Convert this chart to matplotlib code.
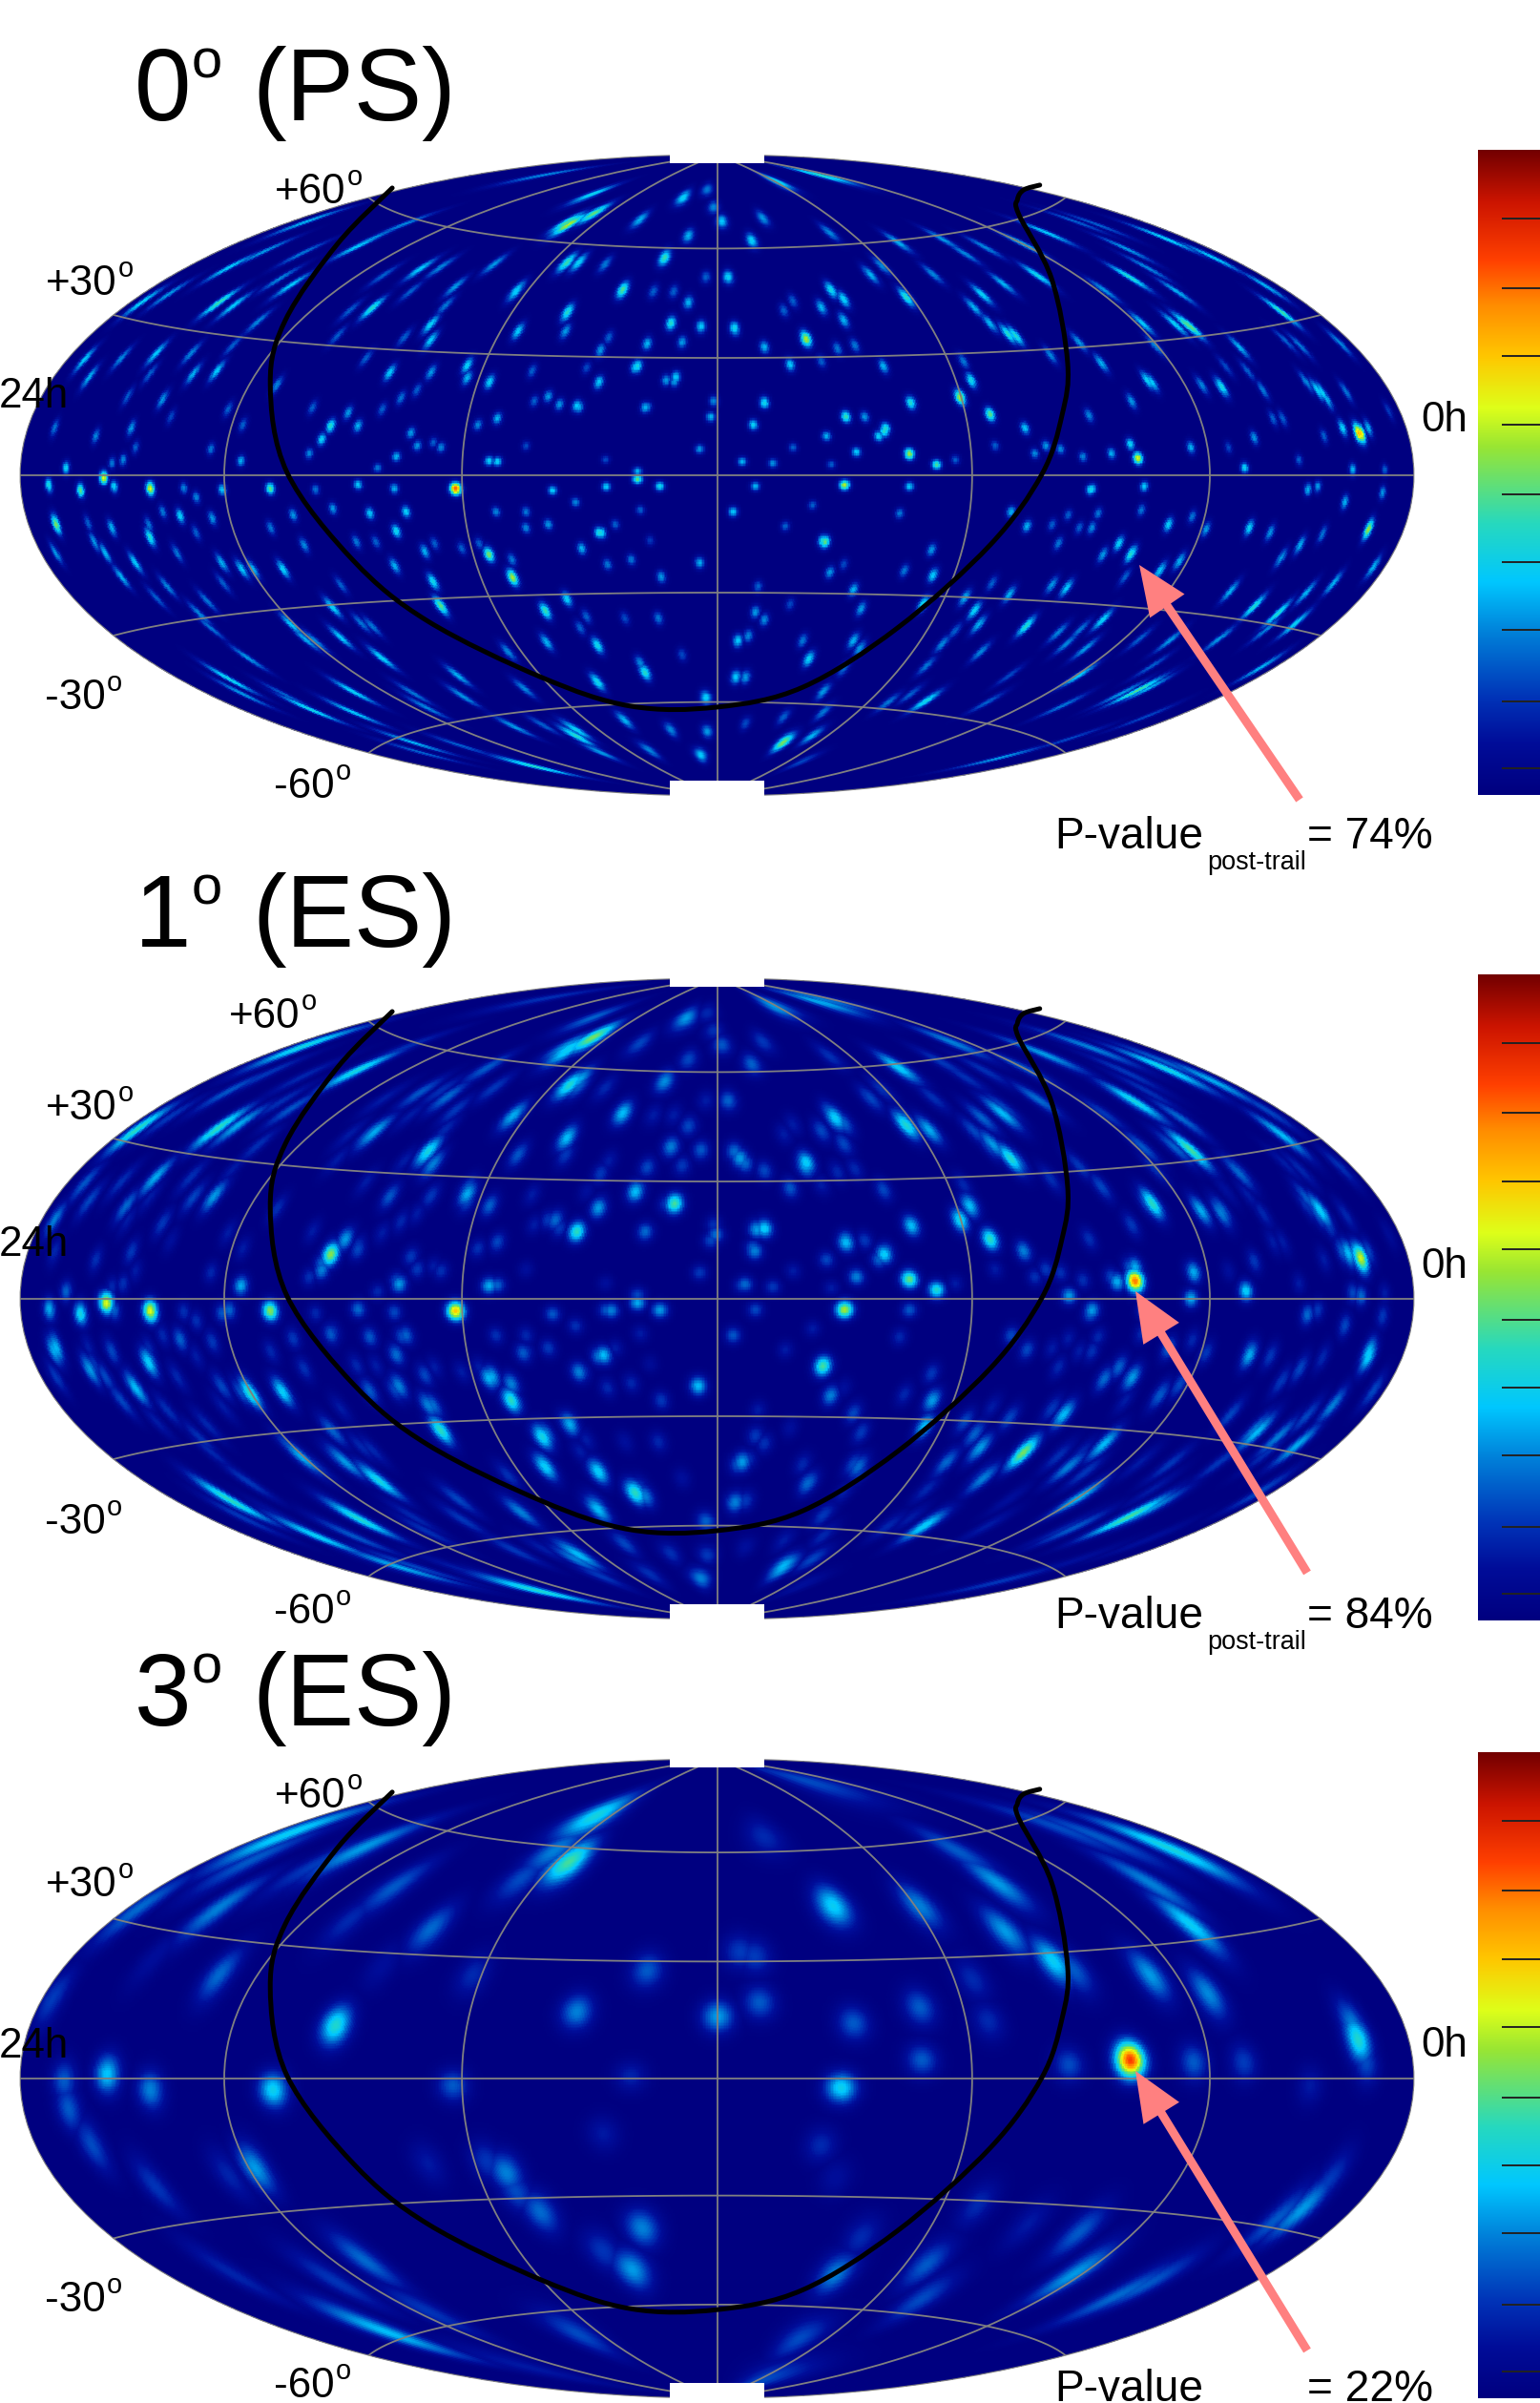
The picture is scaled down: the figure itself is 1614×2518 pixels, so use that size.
import numpy as np
import matplotlib
matplotlib.use("Agg")
import matplotlib.pyplot as plt
from matplotlib.colors import LinearSegmentedColormap
from matplotlib.path import Path
from matplotlib.patches import PathPatch, Rectangle

plt.rcParams['font.family'] = ['Liberation Sans', 'DejaVu Sans']

# sky spots: (map x %, map y %, significance 0..1)
# map x / y are percent of the half-width / half-height of the Hammer plane
ps_spots_left = [
(-95.8,-3.5,.3),(-91.3,-4.7,.42),(-88,-.8,.55),(-86.5,-3.5,.3),(-81.3,-4.2,.55),(-64.1,-4.2,.42),
(-51.5,-3,.28),(-46.3,-4.2,.25),(-37.5,-4.2,.75),(-32.7,4.5,.3),(-23.6,-4.7,.28),(-15.9,-3.5,.28),
(-11.4,-1.3,.42),(-8.2,-3.5,.32),(-94.8,-15.2,.45),(-86.8,-16.4,.25),(-81.3,-19.7,.3),(-32.7,-24.7,.45),
(-29.3,-31.9,.5),(-39.6,-40.6,.4),(-24.6,-42.3,.38),(-21.5,-38.6,.3),(-55.4,15.4,.35),(-56.7,11.2,.3),
(-52.9,19.5,.22),(-51.5,15.4,.25),(-68.3,4.5,.25),(-71.4,53.8,.38),(-69.3,52.9,.28),(-49.4,52.1,.35),
(-51.5,71.3,.28),(-21.5,78.8,.4),(-17.7,81.7,.35),(-21.5,66.3,.38),(-19.8,66.3,.3),(-13.5,57.4,.3),
(-7.5,67.6,.28),(-21.5,50.4,.3),(-28.8,57.1,.28),(-41,47.1,.3),(-41,42.1,.28),(-35.8,34.2,.3),
(-35.8,30.4,.25),(-32.7,29.2,.25),(-41,32.1,.22),(-17,28.7,.25),(-11.7,33.7,.28),(-6.1,29.2,.22),
(2.6,45.4,.25),(-10,41.2,.22),(-19.8,21.2,.25),(-10,21.2,.2),(-16.6,-18,.32),(-19.4,-23,.22),
]
ps_spots_right = [
(92.4,12.9,.62),(60.4,5.3,.55),(18.3,-3,.5),(27.6,6.4,.45),(31.5,3.3,.38),(34.9,24.3,.5),(39.2,19,.42),
(24,13.7,.35),(18.5,18.2,.35),(6.8,22.8,.3),(27.9,22.8,.3),(12.7,42.9,.42),(27.2,55.5,.35),(41.8,44.1,.35),
(68,46.4,.42),(65.8,47.1,.3),(81.1,50.9,.38),(86.9,25.8,.3),(72.4,27.4,.3),(62.5,28.9,.28),(53.8,-4.3,.3),
(93.5,-16.7,.42),(15.2,-20.5,.35),(59.6,-24.3,.3),(77.1,-41,.35),(83,-46.4,.3),(44.4,-47.1,.35),
(60.4,-67.2,.4),(9.4,-83.6,.42),(29.8,-70.7,.3),
]
ps_spots_a = [
(-69.9,64.8,.28),(-64.9,69.7,.22),(-59,79.2,.25),(-59.4,69.2,.18),(-61,59.3,.28),(-62.6,61.3,.2),(-78.6,56.4,.22),
(-83.1,54.4,.3),(-49.4,73.7,.22),(-44.8,78.2,.2),(-42.5,64.3,.28),(-39.6,64.8,.2),(-37.5,58.8,.22),(-47.8,62.3,.15),
(-44.8,43,.15),(-38.9,52.9,.18),(-52.6,51.4,.15),(-54.4,43.5,.15),(-43.9,57.3,.15),(-65.8,47.9,.2),(-80.4,38,.28),
(-75.4,38,.2),(-85.4,36.5,.2),(-90.7,36,.28),(-90,30.6,.25),(-75.1,31.6,.25),(-71.7,32.5,.28),(-69.4,40.5,.15),
(-81.3,31.6,.15),(-79.5,23.6,.22),(-84.5,24.6,.15),(-84,14.7,.22),(-89.1,12.2,.2),(-95,14.7,.18),(-83.4,8.7,.15),
(-93.4,2.3,.3),(-86.8,3.8,.18),(-85.2,4.8,.2),(-78.3,18.2,.12),(-72.6,8.2,.18),(-70.1,20.6,.15),(-68,15.7,.15),
(-63.1,28.1,.2),(-58,21.1,.15),(-48,20.6,.15),(-46.9,32,.28),(-50.3,36.5,.15),(-45.3,24.1,.18),(-43,26.6,.15),
(-34.3,15.7,.2),(-43.9,13.2,.22),(-43,9.2,.22),(-39.6,8.7,.2),(-40.7,10.2,.15),(-46,5.8,.25),(-48.7,2.3,.18),(-58.5,6.8,.2),
]
ps_spots_b = [
(-17.8,87.6,.3),(-21.2,78.2,.5),(-17.6,81.6,.42),(-24.6,93.6,.2),(-11,79.7,.25),(-4.8,86.6,.3),(-1.4,89.1,.18),(-.5,83.6,.2),
(.7,79.2,.28),(6.6,80.2,.22),(8.7,91.6,.32),(15,93.6,.35),(5,73.2,.3),(16.2,75.7,.2),(-4.1,74.7,.25),(-7.5,67.8,.38),
(-16,65.8,.18),(-31.9,65.8,.22),(-28.7,57.8,.28),(-13.5,57.8,.4),(-9.1,57.3,.15),(-6.2,57.3,.15),(-4.1,53.9,.25),(1.6,61.8,.3),
(-1.6,61.8,.15),(-21.4,50.9,.35),(-28.5,44.9,.28),(-21.7,44.9,.22),(-6.6,47.4,.35),(-2.3,46.4,.28),(-10,41,.25),(-5,41.5,.22),
(-16.7,39,.22),(-15.5,43,.15),(2.5,45.9,.32),(12.8,42.5,.5),(6.8,40,.25),(16.4,57.8,.32),(18.2,54.9,.3),(15,52.4,.25),
(18.2,48.4,.25),(9.6,51.4,.15),(10.9,54.4,.15),(22.1,62.5,.25),(26,72.7,.25),(32.4,73.7,.22),(31,62.8,.2),(23.7,65.3,.2),
(19.8,40.5,.18),(17.3,39.5,.18),(10.5,34.5,.28),(23.9,34,.25),(15,35.5,.15),(-11.4,34,.32),(-5.9,30.6,.28),(-7.3,29.6,.22),
(-16.9,29.1,.28),(-32.6,29.1,.3),(-24.2,24.6,.22),(-22.6,22.1,.22),(-20.1,21.6,.28),(-10.3,21.1,.25),(-26.2,23.1,.15),
(-31.5,17.7,.25),(-.9,18.2,.25),(-.5,23.1,.2),(6.8,22.6,.32),(5.2,15.7,.3),(18.5,18.2,.38),(21.2,18.2,.22),(15.7,12.2,.25),
(24.2,14.7,.35),(23.2,12.2,.3),(27.8,22.6,.35),(27.6,6.8,.48),(31.5,3.3,.4),(20,7.2,.28),(-2.5,8.2,.22),(3.6,4.3,.25),(8,3.8,.22),
(-31.5,4.3,.3),(-16,4.8,.12),(-11.4,1.3,.25),(10.9,8.7,.15),(16.4,3.3,.15),(-27.4,9.2,.12),(-18.7,33.5,.12),(-26.5,32.5,.15),
]
ps_spots_c = [
(64.3,74,.3),(71.6,68.3,.28),(58.8,70.7,.22),(59.3,61.8,.35),(66.1,57.3,.25),(61.8,64.8,.2),(67.5,46.9,.4),(61.1,47.4,.28),
(79.1,59.3,.25),(55.6,57.8,.22),(47.4,75.7,.28),(46.1,62.3,.32),(44,72.2,.28),(38.5,71.2,.2),(35.6,69.2,.2),(54.7,78.2,.15),
(51.5,79.2,.15),(41.1,59.8,.25),(38.1,56.4,.3),(36.9,52.4,.25),(42.9,43.5,.35),(39.2,47.4,.25),(52,41.5,.22),(47.9,37.5,.2),
(55.2,35,.25),(61.8,29.6,.3),(62.9,40.5,.2),(72.5,27.6,.32),(69.6,28.1,.2),(75,40,.25),(83.7,40.5,.18),(81.6,42,.15),
(86.2,26.6,.3),(84.6,29.1,.2),(87.6,23.6,.25),(90.3,26.1,.18),(89.8,41.5,.2),(78.4,26.6,.18),(76.2,32.5,.15),(73,34,.12),
(36.5,29.6,.32),(35.4,35.5,.18),(44.2,14.7,.28),(53.4,18.7,.2),(59.5,23.1,.22),(47.2,9.2,.22),(49.3,8.2,.2),(52.5,5.8,.2),
(56.6,6.8,.25),(59.3,9.7,.3),(68,8.7,.25),(77.1,11.7,.22),(75.7,2.3,.3),(83.5,4.8,.15),(92.1,13.2,.65),(89.8,14.7,.3),(93.5,14.7,.25),
(96.5,20.1,.1),(87.1,12.2,.15),(79.8,17.7,.15),(81.2,17.7,.15),(91.2,1.8,.25),(95.8,1.8,.15),(73.4,8.7,.12),(34.2,4.8,.15),
(39.9,9.2,.15),(45.6,6.8,.2),
]
ps_spots_d = [
(-95.9,-3,.33),(-76.5,-4,.2),(-74.7,-6.9,.2),(-77,-12.7,.3),(-72.4,-13.4,.22),(-79.5,-11.4,.18),(-90.2,-14.9,.15),
(-81.5,-15.4,.18),(-81.3,-19.3,.35),(-89.3,-20.8,.22),(-94.8,-24.3,.22),(-87.7,-24.3,.25),(-83.4,-27.3,.28),(-85.4,-31.7,.25),
(-77.4,-24.3,.18),(-71,-27.3,.25),(-74.7,-17.9,.15),(-78.8,-34.7,.2),(-73.1,-39.2,.18),(-80.4,-38.2,.15),(-70.8,-33.7,.15),
(-68.1,-29.3,.28),(-66.5,-29.3,.25),(-62.2,-29.3,.3),(-74.2,-43.2,.2),(-72.6,-47.6,.18),(-61,-46.6,.28),(-59,-51.1,.25),
(-57.6,-51.6,.2),(-53.9,-50.6,.28),(-48,-57,.3),(-51,-46.1,.18),(-49.4,-47.1,.18),(-67.2,-57,.22),(-69.9,-63.5,.32),(-68.1,-68,.22),
(-61.9,-68.4,.15),(-58.3,-72.9,.32),(-52.1,-67.5,.3),(-52.1,-73.9,.28),(-43.5,-83.3,.25),(-42.5,-86.3,.15),(-37.1,-62.5,.25),
(-43.5,-68,.18),(-36.4,-68.9,.22),(-41.6,-72.4,.2),(-36.6,-84.3,.15),(-55.1,-41.2,.3),(-39.6,-40.7,.42),(-40.7,-33.2,.32),
(-46.2,-28.3,.25),(-41.9,-23.8,.25),(-46,-17.4,.32),(-44.6,-11.4,.3),(-49.8,-11.9,.28),(-51.7,-20.8,.18),(-48.9,-20.8,.15),
(-40.5,-21.3,.15),(-36.6,-22.8,.15),(-55.1,-10.4,.22),(-60.8,-12.4,.22),(-64,-16.4,.18),(-59.2,-21.8,.2),(-53.9,-34.2,.15),
(-71,-4.5,.28),(-57.6,-4.5,.18),(-34.1,-21.3,.15),
]
ps_spots_e = [
(-31.7,-11.4,.2),(-27.4,-11.4,.18),(-20.3,-8.4,.2),(-24.2,-15.4,.22),(-27.4,-16.4,.2),(-16.9,-17.9,.35),(-14.6,-15.4,.15),
(-19.4,-22.8,.25),(-29.4,-26.3,.18),(-15.7,-27.8,.18),(-12.3,-26.3,.18),(-8,-31.7,.22),(-2.5,-27.3,.25),(-11,-10.9,.15),(-9.6,-20.3,.1),
(-18.7,-44.1,.15),(-13.2,-44.6,.12),(-8.4,-44.6,.18),(-19.6,-47.6,.15),(-24.4,-52.1,.25),(-17.1,-53.1,.32),(-29.9,-55.1,.2),
(-10.3,-61.5,.35),(-11,-58.5,.2),(-17.1,-64.5,.32),(-27.6,-66.5,.2),(-1.6,-69.4,.3),(-5,-56,.12),(-13.2,-76.4,.25),(-20.1,-79.4,.3),
(-20.1,-81.3,.35),(-29,-78.4,.22),(-24.9,-77.9,.15),(-16.7,-86.3,.22),(-26,-90.8,.35),(-9.6,-85.8,.2),(-6.6,-79.4,.2),(-2.3,-87.3,.28),
(-1.4,-79.9,.22),(2.3,-11.4,.28),(5.5,-3.5,.25),(27.6,-3.5,.28),(15.5,-20.8,.42),(13.7,-9.4,.15),(9.8,-15.9,.15),(26.2,-11.9,.18),
(30.8,-23.3,.22),(31,-31.2,.28),(26.9,-29.8,.18),(16.2,-30.3,.22),(18.2,-27.8,.12),(5.9,-34.7,.15),(19.6,-35.7,.25),(5.5,-42.7,.22),
(6.8,-45.1,.2),(10.5,-40.2,.12),(20.7,-41.7,.22),(3,-51.6,.28),(4.5,-50.1,.2),(12.3,-51.6,.18),(13.2,-57.3,.3),(19.6,-51.6,.25),
(20.5,-54.1,.22),(29.6,-40.2,.32),(32.4,-52.6,.2),(30.1,-59.5,.18),(2.7,-63,.28),(4.1,-63,.22),(15.3,-67.5,.22),(18.2,-60.5,.15),
(30.1,-70.4,.32),(27.8,-68.4,.15),(24.6,-70.9,.18),(15.3,-73.9,.18),(9.6,-75.4,.15),(9.6,-83.3,.45),(13.7,-81.3,.25),(4.1,-77.4,.12),(12.3,-89.3,.12),
]
ps_spots_f = [
(53.6,-4.5,.32),(61.3,-3.5,.28),(84.8,-4.5,.25),(86.2,-3.5,.22),(90.1,-8.4,.25),(95.5,-5.5,.22),(93.5,-16.9,.48),(76.4,-16.4,.3),
(79.4,-17.9,.22),(86.9,-18.4,.18),(83.7,-21.8,.25),(81,-25.8,.22),(64.8,-15.4,.3),(68.2,-12.9,.18),(70.2,-16.9,.22),(60.9,-10.9,.18),
(54.7,-11.9,.18),(50.4,-12.4,.15),(48.1,-15.4,.15),(44.5,-15.9,.25),(42.2,-11.4,.25),(53.8,-16.4,.2),(52,-16.4,.15),(57.7,-21.3,.3),
(59.4,-24.6,.35),(55.4,-24.8,.22),(49,-21.3,.18),(66.4,-26.8,.25),(63.6,-29.8,.28),(58.6,-31.7,.15),(50.2,-35.2,.28),(48.1,-34.2,.22),
(42,-37.2,.25),(35.6,-38.2,.25),(39.5,-33.7,.15),(73.7,-36.2,.25),(84.6,-36.7,.25),(88.5,-33.7,.25),(94.6,-28.8,.25),(80.5,-43.2,.35),
(78.9,-48.1,.2),(72.1,-51.1,.22),(37,-42.2,.3),(37.6,-46.6,.25),(49,-49.1,.2),(55.4,-45.1,.3),(52.2,-48.1,.18),(34.2,-48.6,.15),
(50.2,-52.6,.2),(52.9,-54.1,.22),(65,-51.6,.22),(60.7,-51.1,.15),(37.9,-55.1,.2),(62.5,-59.5,.15),(52,-62.5,.28),(62,-66.5,.25),
(58.2,-68,.22),(78.2,-60,.25),(49.7,-71.9,.18),(42,-62.5,.12),(38.8,-70.9,.15),(40.6,-88.3,.22),(50.6,-82.3,.12),(61.6,-75.4,.12),
]
es1_spots_left = [
(-87.6,-1.3,.6),(-91.3,-4.7,.38),(-95.8,-3.3,.3),(-81.3,-3.8,.6),(-64.1,-3.8,.52),(-37.5,-3.8,.68),
(-70,-3.6,.22),(-51.5,-3.3,.22),(-68.3,4.1,.3),(-45.6,4.6,.28),(-32.7,4.1,.3),(-55.4,13.9,.52),
(-53.3,18.6,.28),(-56.7,9,.25),(-51.5,16.4,.15),(-71.4,53.4,.42),(-68.6,54.2,.3),(-51.5,71.2,.38),
(-59.5,79.3,.38),(-49.1,52,.3),(-41.4,46,.38),(-40.7,42,.25),(-35.8,32.7,.3),(-17.7,81.5,.5),
(-21.5,77.1,.35),(-21.1,66.7,.4),(-19.8,68.2,.3),(-29.2,57.1,.3),(-13.5,57.9,.32),(-21.5,50.2,.32),
(-6.1,29.7,.45),(-20.1,20.9,.42),(-23.2,24.6,.22),(-11.7,33.4,.32),(-17,28.3,.28),(-10.3,20.9,.22),
(3.3,43.8,.28),(-83.6,53.4,.42),(-80.5,37.9,.3),(-84.7,29,.22),(-72.1,32,.28),(-95,24.6,.25),
(-95.1,-16.1,.3),(-89.9,-22.1,.28),(-81.5,-19.8,.35),(-83.3,-28,.32),(-66.9,-29.5,.42),(-62.3,-29,.35),
(-32.3,-24.3,.3),(-29.5,-31.7,.42),(-29.5,-26.5,.25),(-39.6,-41,.42),(-41.4,-33.2,.25),(-25,-43.1,.38),
(-21.1,-39.1,.3),(-24.6,-52.4,.35),(-17,-53.9,.35),(-11.7,-60.5,.42),(-17,-65.7,.32),(-16.3,-17.6,.32),
(-19.8,-22.8,.25),(-2.7,-27.2,.32),(3.6,-50.9,.28),(2.6,-63.5,.25),(-48.4,-56.8,.38),(-53.3,-50.9,.28),
(-59.5,-49.4,.3),(-69.7,-62.8,.42),(-51.2,-68.7,.4),(-57.4,-73.9,.35),(-45.6,-83.5,.3),(-25.7,-90.9,.4),
(-19.8,-79.8,.32),(-2.3,-87.2,.25),(-15.2,-3.6,.25),(-11.4,-1.3,.3),(-8.2,-3.6,.28),(-55.4,-11,.2),
(-49.8,-28.7,.2),(-45.6,-27.2,.25),(-45.2,-11.7,.18),(-27.8,-16.9,.2),(-28.1,-66.5,.25),(-4.4,87.5,.28),
(-38.6,63,.22),(-33,71.9,.2),(4,42.3,.22),(-.2,20.1,.22),(5.7,21.6,.28),(4,4.6,.22),
]
es1_spots_right = [
(60,5.6,.78),(57.4,5.3,.3),(60,9.8,.3),(92.4,12.7,.58),(90.6,14.2,.32),(18.3,-3.3,.55),(27.6,6.1,.48),
(31.5,2.8,.4),(15.2,-21,.45),(6.8,21.9,.35),(5.4,14.9,.25),(18.5,17.5,.32),(24,13.9,.35),(20,6.8,.25),
(27.9,22.8,.32),(34.9,24.6,.38),(39.2,18.6,.42),(36.3,29,.32),(44,14.9,.25),(12.7,41.6,.3),(17,56.4,.35),
(27.2,54.2,.4),(30.5,52.7,.3),(41,57.9,.32),(42.2,43.8,.4),(39.6,48.2,.28),(26.1,72.2,.35),(60,61.6,.38),
(64.4,71.9,.38),(66.6,56.4,.22),(68,46.5,.45),(81.1,51.2,.32),(62.5,29.7,.42),(69.5,27.5,.3),(72.4,26.8,.25),
(86.6,27.5,.35),(84.7,31.2,.2),(74.9,39.4,.22),(68,.1,.3),(68.4,8.3,.3),(75.9,2.4,.35),(50.5,.9,.28),
(53.8,-3.6,.28),(92.4,.9,.22),(84.7,-5,.22),(93.5,-18.1,.35),(76.4,-17.6,.3),(59.6,-24.6,.28),(55.6,-25,.22),
(49.8,-36.1,.32),(55.6,-45.3,.32),(44,-48,.5),(37.8,-46.5,.28),(29.8,-39.8,.32),(30.9,-31.7,.28),(16.3,-30.2,.25),
(38.2,-56.1,.25),(33,-50.9,.22),(50.5,-52.4,.25),(52,-62,.32),(59.3,-67.9,.45),(62.2,-65.7,.28),(29.8,-70.9,.35),
(13,-57.6,.22),(20.3,-52.4,.22),(77.5,-41.7,.32),(83.3,-45.7,.3),(88.4,-33.2,.25),(63.6,-30.2,.2),(9.4,-84.2,.3),
(51.2,-71.6,.2),(14.9,92.6,.3),(8.3,91.2,.28),(33.8,80.1,.25),(47,76.4,.28),(53.5,78.6,.25),(71.6,68.2,.3),
]
es3_spots_left = [
(-54.7,16.6,.4),(-21.2,67.7,.45),(-17.3,82.1,.38),(-23.2,71.3,.25),(-20.1,20.9,.25),(.1,19.4,.28),(-10,33.8,.2),
(3.3,39.6,.16),(-71.4,32.4,.22),(-71.4,53.3,.25),(-61.6,76.3,.35),(-66.5,68.4,.2),(-50.8,72,.28),(-57.4,67,.16),
(-41,46.8,.22),(-46.3,59.8,.2),(-52.6,49.7,.13),(-83.6,54,.22),(-87.5,1.4,.33),(-81.3,-3.6,.25),(-93.7,-.7,.2),
(-93,-9.4,.2),(-89.6,-20.9,.18),(-80.5,-33.8,.15),(-63.7,-3.6,.36),(-37.9,-2.2,.2),(-12.4,.7,.12),(-66.2,-28.1,.28),
(-70,-30.2,.12),(-30.2,-29.5,.25),(-28.8,-35.3,.18),(-33,-25.9,.15),(-41.4,-26.6,.1),(-25.3,-41.8,.22),
(-10.7,-46.8,.25),(-12.1,-59.8,.28),(-16.3,-54,.15),(-16.3,-17.3,.1),(-50.5,-56.9,.22),(-69.3,-61.2,.12),
(-54.7,-63.4,.15),(-47.3,-79.2,.32),(-41.4,-72.7,.15),(-19.8,-79.9,.18),(-27.4,-90,.1),(-95.8,25.2,.16),
(-35,32.4,.13),(-48,35.3,.08),(-80.5,38.2,.08),(-28,62.6,.18),
]
es3_spots_right = [
(59.3,5.8,.84),(92,12.2,.4),(91.3,16.6,.25),(93.1,5,.18),(17.8,-2.9,.36),(16.7,54,.35),(29.1,54,.25),(41.4,46.1,.28),
(40.3,61.2,.28),(34.5,71.3,.2),(48.3,36.7,.35),(51.3,33.8,.2),(62.2,32.4,.28),(70.5,26.6,.26),(68,48.2,.35),
(62.2,61.2,.25),(65.1,72,.38),(55,75.6,.2),(49.1,78.5,.18),(29.1,22.3,.2),(19.6,17.3,.2),(6.1,23.8,.2),
(5.4,38.2,.16),(29.4,5.8,.2),(36.7,31,.13),(38.9,18,.13),(50.5,4.3,.18),(68.4,5,.2),(75.6,5,.16),(85.1,-2.2,.1),
(14.9,-20.9,.13),(17,-31,.08),(84,-41,.28),(80.4,-43.9,.2),(87.7,-32.4,.16),(52,-48.2,.2),(51.3,-61.2,.28),
(61.5,-64.8,.2),(57.8,-67.7,.22),(17,-61.2,.25),(30.1,-58.3,.2),(29.4,-69,.18),(37.4,-39.6,.13),(11.9,-81.4,.18),
(20.7,-49.7,.13),(44.7,-45.4,.1),(6.8,75.6,.13),(13.4,92.9,.18),(6.8,-94.3,.18),
]

# galactic plane (same map units)
gal_u = [-46.6,-54.4,-61.9,-64.1,-61.7,-52.1,-41.5,-25.1,-12.4,0,12.3,25.9,39.2,46.6,49.5,50.3,48,43.3,43.1,44,46.3]
gal_v = [89.6,72.3,48.5,28.6,.9,-26.8,-45.5,-63.1,-72,-72.3,-66.1,-47.6,-21.7,.3,18.8,35,61.3,81.3,86,89,90.5]

titles = ["0", "1", "3"]
title_rest = ["(PS)", "(ES)", "(ES)"]
pvalues = ["= 74%", "= 84%", "= 22%"]
# spot size per panel: sigma = base*(floor + slope*amp)
spot_sigma_deg = [0.95, 1.55, 3.2]
spot_floor = [.75, .85, .85]
spot_slope = [.4, .25, 0.]
amp_lift = [.06, 0., 0.]
stretch_base = [.9, .6, .4]
stretch_edge = [2.6, 2.2, 1.6]
cbar_ticks = [.041,.145,.256,.361,.466,.574,.680,.786,.893]

# colour scale
cmap_stops = [(0,(0,0,.5)),(.08,(0,.05,.6)),(.15,(0,.2,.72)),(.25,(0,.5,.85)),(.33,(0,.78,1)),(.42,(.15,.85,.75)),
              (.54,(.6,.9,.2)),(.6,(.87,1,.1)),(.68,(1,.78,0)),(.76,(1,.55,0)),(.83,(1,.25,0)),(.92,(.8,.08,0)),(1,(.45,0,0))]
skymap = LinearSegmentedColormap.from_list('skymap', cmap_stops, N=512)

W, H = 1614, 2518
fig = plt.figure(figsize=(W/100, H/100), dpi=100, facecolor='white')

def frac(x0, y0, x1, y1):
    return [x0/W, 1-y1/H, (x1-x0)/W, (y1-y0)/H]

panel_boxes = [(21,162,1482,834),(21,1025,1482,1697),(21,1843,1482,2513)]
cbar_boxes = [(1549,157,1640,833),(1549,1021,1640,1698),(1549,1836,1640,2513)]
GRAY = '#808080'

lon_edges = np.radians(np.arange(-180, 180.01, 0.36))
lat_edges = np.radians(np.arange(-89.64, 89.65, 0.36))
lon_c = .5*(lon_edges[1:]+lon_edges[:-1])
lat_c = .5*(lat_edges[1:]+lat_edges[:-1])

ps_all = np.array(ps_spots_left+ps_spots_right+ps_spots_a+ps_spots_b+ps_spots_c+ps_spots_d+ps_spots_e+ps_spots_f)
es1_all = np.array(es1_spots_left+es1_spots_right)
es3_all = np.array(es3_spots_left+es3_spots_right)
# the 1-degree map is the smoothed PS sky: the PS specks show through it as faint blobs
es1_faint = ps_all*np.array([1, 1, .7])
spot_sets = [ps_all, np.vstack([es1_faint, es1_all]), es3_all]

for i in range(3):
    ax = fig.add_axes(frac(*panel_boxes[i]), projection='hammer')
    ax.set_aspect('auto')
    inv = ax.transProjection.inverted()
    plane = ax.transAffine + ax.transAxes
    s = spot_sets[i]
    u, v = s[:,0]/100, s[:,1]/100
    r = np.maximum(np.hypot(u, v)/.985, 1)
    lon0, lat0 = inv.transform(np.column_stack([u/r*2*np.sqrt(2), v/r*np.sqrt(2)])).T
    field = np.zeros((lat_c.size, lon_c.size))
    sig0 = np.radians(spot_sigma_deg[i])
    for lo, la, a in zip(lon0, lat0, s[:,2]):
        sig = sig0*(spot_floor[i]+spot_slope[i]*a)
        sx = sig/max(np.cos(la), .12)
        sy = sig*(1+abs(np.sin(la))*(stretch_base[i]+stretch_edge[i]*abs(lo/np.pi)))
        gx = np.exp(-.5*((lon_c-lo)/sx)**2)
        gy = np.exp(-.5*((lat_c-la)/sy)**2)
        field = np.maximum(field, (a+amp_lift[i])*np.outer(gy, gx))
    ax.pcolormesh(lon_edges, lat_edges, field, cmap=skymap, vmin=0, vmax=1,
                  antialiased=False, linewidth=0, rasterized=True, zorder=1)
    ax.set_longitude_grid(60)
    ax.set_latitude_grid(30)
    ax.set_longitude_grid_ends(87)
    ax.grid(True, color=GRAY, lw=1.3, ls='-')
    ax.set_axisbelow(False)
    ax.tick_params(labelleft=False, labelbottom=False, left=False, bottom=False)
    ax.spines['geo'].set_visible(False)
    ax.patch.set_visible(False)
    # flat cut-outs at the map's top and bottom centre
    ax.add_patch(Rectangle((.466, .987), .068, .03, transform=ax.transAxes, fc='white', ec='none', zorder=3, clip_on=False))
    ax.add_patch(Rectangle((.466, -.01), .068, .034, transform=ax.transAxes, fc='white', ec='none', zorder=3, clip_on=False))
    for lon_edge in (-np.pi, np.pi):
        ax.plot([lon_edge*.9999]*2, np.radians([-89.6, 89.6]), color=GRAY, lw=.8, clip_on=False, zorder=2.8)
    # galactic plane as a smooth curve through the read points, in the projection plane
    pts = np.column_stack([np.array(gal_u)/100*2*np.sqrt(2), np.array(gal_v)/100*np.sqrt(2)])
    verts = [pts[0]]
    codes = [Path.MOVETO]
    for k in range(len(pts)-1):
        p0 = pts[max(k-1, 0)]; p1 = pts[k]; p2 = pts[k+1]; p3 = pts[min(k+2, len(pts)-1)]
        verts += [p1+(p2-p0)/6, p2-(p3-p1)/6, p2]
        codes += [Path.CURVE4]*3
    ax.add_patch(PathPatch(Path(verts, codes), transform=plane, fc='none', ec='black', lw=3.6,
                           zorder=4, capstyle='round', clip_on=False))

    cax = fig.add_axes(frac(*cbar_boxes[i]))
    cax.imshow(np.linspace(0, 1, 512)[:, None], cmap=skymap, vmin=0, vmax=1, aspect='auto',
               origin='lower', extent=[0, 1, 0, 1])
    cax.set_xticks([])
    cax.yaxis.tick_right()
    cax.set_yticks(cbar_ticks)
    cax.tick_params(axis='y', direction='in', length=29, width=1.4, color='#222222',
                    right=True, left=False, labelright=False, labelleft=False, pad=0)
    for sp in cax.spines.values():
        sp.set_visible(False)
    cax.set_xlim(0, 1)
    for t in cax.yaxis.get_major_ticks():
        t.tick2line.set_markersize(29)
        t.tick2line.set_xdata([65/91])

over = fig.add_axes([0, 0, 1, 1], zorder=10)
over.set_xlim(0, W); over.set_ylim(H, 0); over.axis('off'); over.patch.set_visible(False)

def px(s):
    return s*.72

def label(x, y, base, sup=None):
    over.text(x, y, base, fontsize=px(44), va='baseline', ha='left', color='black', clip_on=False)
    if sup:
        w = (.584 if base[0] == '+' else .333)+1.112
        over.text(x+w*44+1, y-19, sup, fontsize=px(29), va='baseline', ha='left', color='black')

title_base = [126, 992, 1808]
label_y = [(213,309,427,743,836,452), (1077,1173,1316,1607,1701,1339), (1894,1987,2156,2422,2512,2155)]
label_x60 = [288, 240, 288]
pval_base = [889, 1706, 2516]
arrows = [((1194,592),(1362,838)), ((1190,1353),(1370,1648)), ((1190,2170),(1370,2463))]

for i in range(3):
    yb = title_base[i]
    over.text(141, yb, titles[i], fontsize=px(107), va='baseline', color='black')
    over.text(201, yb-45, 'o', fontsize=px(58), va='baseline', color='black')
    over.text(264, yb, title_rest[i], fontsize=px(107), va='baseline', color='black')
    y60, y30, y24, ym30, ym60, y0 = label_y[i]
    label(label_x60[i], y60, '+60', 'o')
    label(48, y30, '+30', 'o')
    over.text(-1, y24, '24h', fontsize=px(44), va='baseline', color='black')
    label(47, ym30, '-30', 'o')
    label(287, ym60, '-60', 'o')
    over.text(1489, y0, '0h', fontsize=px(44), va='baseline', color='black')
    pb = pval_base[i]
    over.text(1105, pb, 'P-value', fontsize=px(46), va='baseline', color='black')
    over.text(1265, pb+22, 'post-trail', fontsize=px(27), va='baseline', color='black')
    over.text(1370, pb, pvalues[i], fontsize=px(46), va='baseline', color='black')
    tip, tail = arrows[i]
    over.annotate('', xy=tip, xytext=tail, xycoords='data', textcoords='data',
                  arrowprops=dict(facecolor='#ff8080', edgecolor='#ff8080', width=px(9),
                                  headwidth=px(44), headlength=px(52), shrink=0, lw=0))

fig.savefig('out.png', dpi=100, facecolor='white')
